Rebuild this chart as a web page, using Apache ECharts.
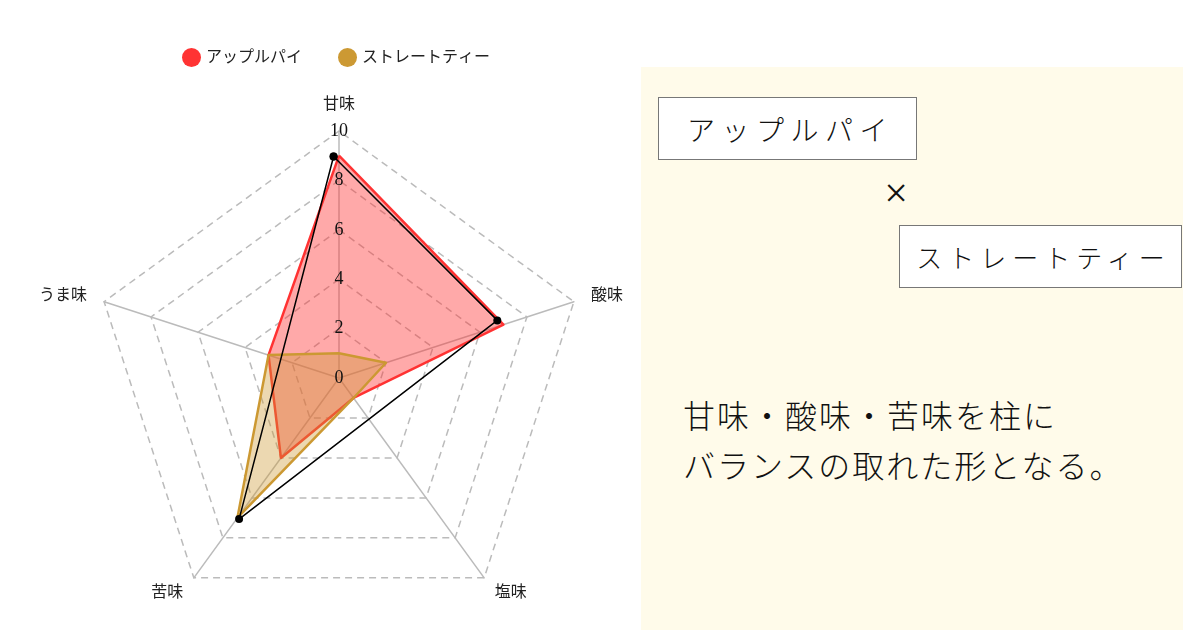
<!DOCTYPE html>
<html>
<head>
<meta charset="utf-8">
<script src="https://cdn.jsdelivr.net/npm/echarts@6/dist/echarts.min.js"></script>
<style>
  html, body { margin: 0; padding: 0; background: #fff; }
  #wrap { position: relative; width: 1200px; height: 630px; }
  #chart { position: absolute; left: 0; top: 0; width: 1200px; height: 630px; }
  .jp { font-family: "Liberation Serif", "Noto Sans CJK JP", serif; color: #111; }
  #panel { position: absolute; left: 641px; top: 67px; width: 542px; height: 563px; background: #fffbea; }
  .box { position: absolute; box-sizing: border-box; height: 63px; border: 1px solid #777; background: #fff;
         display: flex; align-items: center; justify-content: center; font-weight: 300; }
  #box1 { left: 658px; top: 97px; width: 259px; font-size: 28px; letter-spacing: 6.5px; padding-left: 6px; }
  #box2 { left: 899px; top: 225px; width: 283px; font-size: 26px; letter-spacing: 6px; padding-left: 6px; }
  #times { position: absolute; left: 872px; top: 170px; width: 48px; text-align: center; font-size: 42px; line-height: 46px; font-weight: 300; }
  #note { position: absolute; left: 683px; top: 392px; font-size: 32px; line-height: 50px; letter-spacing: 2px; font-weight: 300; white-space: nowrap; }
</style>
</head>
<body>
<div id="wrap">
  <div id="chart"></div>
  <div id="panel"></div>
  <div id="box1" class="box jp">アップルパイ</div>
  <div id="times" class="jp">×</div>
  <div id="box2" class="box jp">ストレートティー</div>
  <div id="note" class="jp">甘味・酸味・苦味を柱に<br>バランスの取れた形となる。</div>
</div>
<script>
// 軸は反時計回りに並ぶので 甘味 → うま味 → 苦味 → 塩味 → 酸味 の順
var axisNames = ['甘味', 'うま味', '苦味', '塩味', '酸味'];
var seriesNames = ['アップルパイ', 'ストレートティー'];
var applePie = [9, 3, 4, 1, 7];
var straightTea = [1, 3, 7, 1, 2];
// 黒い三角形（甘味・酸味・苦味） [値, 角度(上から時計回り)]
var triangleValues = [8.97, 6.82, 7.0, 8.97];
var triangleAngles = [358.6, 70, 215.3, 358.6];
var tickLabels = [0, 2, 4, 6, 8, 10];

var FONT = '"Liberation Serif", "Noto Sans CJK JP", serif';
var CENTER = [339, 378];
var RADIUS = 247;

var chart = echarts.init(document.getElementById('chart'), null, { renderer: 'canvas' });

var indicator = axisNames.map(function (n) { return { name: n, min: 0, max: 10 }; });
var triangle = triangleValues.map(function (v, i) { return [v, triangleAngles[i]]; });

var option = {
  backgroundColor: '#ffffff',
  animation: false,
  textStyle: { fontFamily: FONT },
  legend: {
    data: seriesNames,
    left: 177,
    top: 43,
    icon: 'circle',
    itemWidth: 19,
    itemHeight: 19,
    itemGap: 36,
    textStyle: { fontSize: 16, color: '#222', fontFamily: FONT }
  },
  radar: {
    center: CENTER,
    radius: RADIUS,
    startAngle: 90,
    splitNumber: 5,
    shape: 'polygon',
    nameGap: 18,
    indicator: indicator,
    axisName: { color: '#222', fontSize: 16, fontFamily: FONT },
    axisLine: { lineStyle: { color: '#bbbbbb', width: 1.5 } },
    splitLine: { lineStyle: { color: '#bbbbbb', width: 1.5, type: [7, 5] } },
    splitArea: { show: false },
    axisLabel: { show: false }
  },
  polar: { center: CENTER, radius: RADIUS },
  angleAxis: {
    type: 'value', min: 0, max: 360, startAngle: 90, clockwise: true,
    axisLine: { show: false }, axisTick: { show: false },
    axisLabel: { show: false }, splitLine: { show: false }
  },
  radiusAxis: {
    type: 'value', min: tickLabels[0], max: tickLabels[tickLabels.length - 1], interval: 2,
    z: 10,
    axisLine: { show: false }, axisTick: { show: false }, splitLine: { show: false },
    axisLabel: {
      margin: 0, align: 'center', verticalAlign: 'middle',
      fontSize: 18, color: '#111', fontFamily: FONT
    }
  },
  series: [
    {
      name: seriesNames[0],
      type: 'radar',
      symbol: 'none',
      z: 2,
      itemStyle: { color: '#ff3333' },
      lineStyle: { color: '#ff3333', width: 2.5 },
      areaStyle: { color: '#ff3333', opacity: 0.42 },
      data: [{ value: applePie, name: seriesNames[0] }]
    },
    {
      name: seriesNames[1],
      type: 'radar',
      symbol: 'none',
      z: 3,
      itemStyle: { color: '#cc9933' },
      lineStyle: { color: '#cc9933', width: 2.5 },
      areaStyle: { color: '#cc9933', opacity: 0.38 },
      data: [{ value: straightTea, name: seriesNames[1] }]
    },
    {
      name: 'triangle',
      type: 'line',
      coordinateSystem: 'polar',
      z: 5,
      symbol: 'circle',
      symbolSize: 8,
      showSymbol: true,
      itemStyle: { color: '#000' },
      lineStyle: { color: '#000', width: 1.5 },
      data: triangle
    }
  ]
};

chart.setOption(option);
</script>
</body>
</html>
